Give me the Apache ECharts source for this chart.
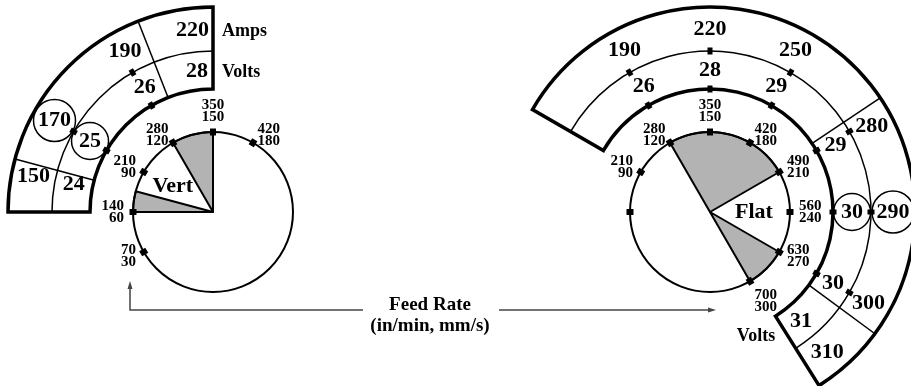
<!DOCTYPE html>
<html><head><meta charset="utf-8">
<script src="https://cdn.jsdelivr.net/npm/echarts@6/dist/echarts.min.js"></script>
<style>html,body{margin:0;padding:0;background:#fff}#c{width:911px;height:386px}</style>
</head><body><div id="c"></div>
<script>
// ---------------- data ----------------
const feedInMin = [70, 140, 210, 280, 350, 420, 490, 560, 630, 700];
const feedMmS   = [30, 60, 90, 120, 150, 180, 210, 240, 270, 300];

// Vertical position
const vertFeedTicks    = [70, 140, 210, 280, 350, 420];
const vertFeedLabeled  = [70, 140, 210, 280, 350, 420];
const vertShaded       = [[280, 350], [140, 175]];
const vertBandRange    = [140, 350];
const vertBandDividers = [300, 175];
const vertScaleTicks   = [210, 280];
const vertCellFeeds    = [335, 283, 210, 166];
const vertAmps         = [220, 190, 170, 150];
const vertVolts        = [28, 26, 25, 24];
const vertCircled      = [0, 0, 1, 0];

// Flat position
const flatFeedTicks    = [140, 210, 280, 350, 420, 490, 560, 630, 700];
const flatFeedLabeled  = [210, 280, 350, 420, 490, 560, 630, 700];
const flatShaded       = [[280, 490], [630, 700]];
const flatBandRange    = [210, 695];
const flatBandDividers = [481, 645];
const flatScaleTicks   = [280, 350, 420, 490, 560, 630];
const flatCellFeeds    = [285, 350, 415, 495, 560, 630, 677];
const flatAmps         = [190, 220, 250, 280, 290, 300, 310];
const flatVolts        = [26, 28, 29, 29, 30, 30, 31];
const flatCircled      = [0, 0, 0, 0, 1, 0, 0];

// ---------------- layout ----------------
const FONT = '"Liberation Serif", "Times New Roman", serif';
const R = {feed: 80, voltIn: 123, mid: 161, out: 205, feedLabel: 89, voltLabel: 142, ampLabel: 183};

const panels = [
  {name: 'Vert', center: [213, 212], nameFeed: 217, nameR: 48,
   ticks: vertFeedTicks, labeled: vertFeedLabeled, shaded: vertShaded, band: vertBandRange,
   dividers: vertBandDividers, scaleTicks: vertScaleTicks, cellFeeds: vertCellFeeds,
   amps: vertAmps, volts: vertVolts, circled: vertCircled},
  {name: 'Flat', center: [710, 212], nameFeed: 560, nameR: 44,
   ticks: flatFeedTicks, labeled: flatFeedLabeled, shaded: flatShaded, band: flatBandRange,
   dividers: flatBandDividers, scaleTicks: flatScaleTicks, cellFeeds: flatCellFeeds,
   amps: flatAmps, volts: flatVolts, circled: flatCircled}
];

function angOf(api, f) {
  const c = api.coord([0, f]), p = api.coord([R.out, f]);
  return Math.atan2(p[1] - c[1], p[0] - c[0]);
}
function pxR(api, r) {
  const c = api.coord([0, 0]), p = api.coord([r, 0]);
  return Math.hypot(p[0] - c[0], p[1] - c[1]);
}
function span(api, f1, f2) {
  let a1 = angOf(api, f1), a2 = angOf(api, f2);
  while (a2 <= a1) a2 += 2 * Math.PI;
  return [a1, a2];
}
function txt(p, s, font, align, valign, extra) {
  return Object.assign({type: 'text', x: p[0], y: p[1],
    style: {text: String(s), font: font, fill: '#000', align: align || 'center',
      verticalAlign: valign || 'middle', textAlign: align || 'center', textVerticalAlign: valign || 'middle'}}, extra || {});
}
function tickRect(api, r, f, w, h) {
  const p = api.coord([r, f]);
  const a = angOf(api, f);
  return {type: 'rect', x: p[0], y: p[1], rotation: -a,
    shape: {x: -w / 2, y: -h / 2, width: w, height: h}, style: {fill: '#000'}};
}

const series = [];
panels.forEach((p, i) => {
  const base = {type: 'custom', coordinateSystem: 'polar', polarIndex: i, silent: true, animation: false};
  // shaded wedges
  series.push(Object.assign({}, base, {
    data: p.shaded.map(s => [0, s[0], s[1]]),
    renderItem: (params, api) => {
      const c = api.coord([0, 0]);
      const a = span(api, api.value(1), api.value(2));
      return {type: 'sector', shape: {cx: c[0], cy: c[1], r0: 0, r: pxR(api, R.feed),
        startAngle: a[0], endAngle: a[1], clockwise: true},
        style: {fill: '#b3b3b3', stroke: '#000', lineWidth: 2, lineJoin: 'round'}};
    }
  }));
  // feed-rate circle
  series.push(Object.assign({}, base, {
    data: [[0, 0]],
    renderItem: (params, api) => {
      const c = api.coord([0, 0]);
      return {type: 'circle', shape: {cx: c[0], cy: c[1], r: pxR(api, R.feed)},
        style: {fill: null, stroke: '#000', lineWidth: 2}};
    }
  }));
  // amps / volts band
  series.push(Object.assign({}, base, {
    data: [[0, p.band[0], p.band[1]]],
    renderItem: (params, api) => {
      const c = api.coord([0, 0]);
      const a = span(api, api.value(1), api.value(2));
      return {type: 'group', children: [
        {type: 'arc', shape: {cx: c[0], cy: c[1], r: pxR(api, R.mid), startAngle: a[0], endAngle: a[1], clockwise: true},
         style: {fill: null, stroke: '#000', lineWidth: 1.5}},
        {type: 'sector', shape: {cx: c[0], cy: c[1], r0: pxR(api, R.voltIn), r: pxR(api, R.out),
          startAngle: a[0], endAngle: a[1], clockwise: true},
         style: {fill: null, stroke: '#000', lineWidth: 3.5, lineJoin: 'miter'}}
      ]};
    }
  }));
  // band dividers
  series.push(Object.assign({}, base, {
    data: p.dividers.map(f => [0, f]),
    renderItem: (params, api) => {
      const f = api.value(1);
      const p1 = api.coord([R.voltIn, f]), p2 = api.coord([R.out, f]);
      return {type: 'line', shape: {x1: p1[0], y1: p1[1], x2: p2[0], y2: p2[1]},
        style: {stroke: '#000', lineWidth: 1.5}};
    }
  }));
  // feed-rate ticks
  series.push(Object.assign({}, base, {
    data: p.ticks.map(f => [0, f]),
    renderItem: (params, api) => tickRect(api, R.feed, api.value(1), 7, 6)
  }));
  // volts / amps scale ticks
  series.push(Object.assign({}, base, {
    data: p.scaleTicks.map(f => [0, f]),
    renderItem: (params, api) => ({type: 'group', children: [
      tickRect(api, R.voltIn, api.value(1), 7, 5),
      tickRect(api, R.mid, api.value(1), 7, 5)
    ]})
  }));
  // feed-rate labels (in/min over mm/s)
  series.push(Object.assign({}, base, {
    data: p.labeled.map(f => [0, f, feedMmS[feedInMin.indexOf(f)]]),
    renderItem: (params, api) => {
      const f = api.value(1);
      const a = angOf(api, f);
      const cx = Math.cos(a), sy = -Math.sin(a);
      const align = Math.abs(cx) < 0.2 ? 'center' : (cx > 0 ? 'left' : 'right');
      const valign = sy > 0.9 ? 'bottom' : (sy < -0.7 ? 'top' : 'middle');
      const pt = api.coord([R.feedLabel, f]);
      const el = txt(pt, f + '\n' + api.value(2), 'bold 15px ' + FONT, align, valign);
      el.style.lineHeight = 12;
      return el;
    }
  }));
  // amps / volts cell labels
  series.push(Object.assign({}, base, {
    data: p.cellFeeds.map((f, k) => [0, f, p.amps[k], p.volts[k], p.circled[k]]),
    renderItem: (params, api) => {
      const f = api.value(1);
      const pa = api.coord([R.ampLabel, f]), pv = api.coord([R.voltLabel, f]);
      const font = 'bold 22px ' + FONT;
      const ch = [txt(pa, api.value(2), font), txt(pv, api.value(3), font)];
      if (api.value(4)) {
        ch.push({type: 'circle', shape: {cx: pa[0], cy: pa[1], r: 21}, style: {fill: null, stroke: '#000', lineWidth: 1.5}});
        ch.push({type: 'circle', shape: {cx: pv[0], cy: pv[1], r: 18.5}, style: {fill: null, stroke: '#000', lineWidth: 1.5}});
      }
      return {type: 'group', children: ch};
    }
  }));
  // position name
  series.push(Object.assign({}, base, {
    data: [[0, p.nameFeed]],
    renderItem: (params, api) => txt(api.coord([p.nameR, api.value(1)]), p.name, 'bold 22px ' + FONT)
  }));
});

const axisOff = {show: false, axisLine: {show: false}, axisTick: {show: false}, axisLabel: {show: false}, splitLine: {show: false}, splitArea: {show: false}};
const option = {
  backgroundColor: '#fff',
  animation: false,
  polar: panels.map(p => ({center: p.center, radius: R.out})),
  angleAxis: panels.map((p, i) => Object.assign({polarIndex: i, type: 'value', min: 0, max: 840, startAngle: 240, clockwise: true}, axisOff)),
  radiusAxis: panels.map((p, i) => Object.assign({polarIndex: i, type: 'value', min: 0, max: R.out}, axisOff)),
  graphic: [
    {type: 'text', x: 222, y: 31, style: {text: 'Amps', font: 'bold 18px ' + FONT, fill: '#000', align: 'left', verticalAlign: 'middle'}},
    {type: 'text', x: 222, y: 72, style: {text: 'Volts', font: 'bold 18px ' + FONT, fill: '#000', align: 'left', verticalAlign: 'middle'}},
    {type: 'text', x: 756, y: 336, style: {text: 'Volts', font: 'bold 18px ' + FONT, fill: '#000', align: 'center', verticalAlign: 'middle'}},
    {type: 'text', x: 430, y: 305, style: {text: 'Feed Rate', font: 'bold 19px ' + FONT, fill: '#000', align: 'center', verticalAlign: 'middle'}},
    {type: 'text', x: 430, y: 326, style: {text: '(in/min, mm/s)', font: 'bold 19px ' + FONT, fill: '#000', align: 'center', verticalAlign: 'middle'}},
    {type: 'polyline', shape: {points: [[130, 288], [130, 310], [363, 310]]}, style: {stroke: '#444', lineWidth: 1.5, fill: null}},
    {type: 'polygon', shape: {points: [[127.5, 289], [132.5, 289], [130, 281]]}, style: {fill: '#444'}},
    {type: 'line', shape: {x1: 499, y1: 310, x2: 709, y2: 310}, style: {stroke: '#444', lineWidth: 1.5}},
    {type: 'polygon', shape: {points: [[708, 307.5], [708, 312.5], [716, 310]]}, style: {fill: '#444'}}
  ],
  series: series
};
const chart = echarts.init(document.getElementById('c'), null, {renderer: 'canvas'});
chart.setOption(option);
</script></body></html>
